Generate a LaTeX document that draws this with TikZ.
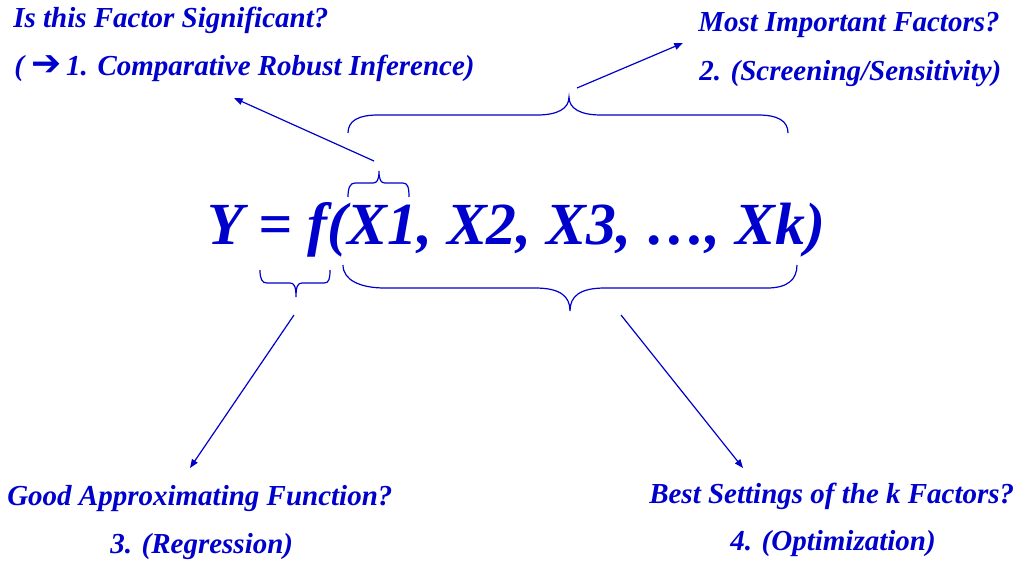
\documentclass[tikz,border=0pt]{standalone}
\usepackage{fontspec}
\setmainfont{Liberation Serif}
\newfontfamily\dingfont{DejaVu Sans}
\usetikzlibrary{arrows.meta}
\definecolor{dblue}{RGB}{0,0,204}
\begin{document}
\begin{tikzpicture}[x=0.75pt,y=-0.75pt,
  lbl/.style={anchor=base west,inner sep=0pt,text=dblue,font=\fontsize{21.75}{26}\selectfont\bfseries\itshape},
  eqn/.style={anchor=base west,inner sep=0pt,text=dblue,font=\fontsize{44.8}{50}\selectfont\bfseries\itshape},
  brace/.style={draw=dblue,line width=0.9pt},
  conn/.style={draw=dblue,line width=0.9pt,-{Triangle[length=6.5pt,width=5pt]}}]
\useasboundingbox (0,0) rectangle (1021,565);
% texts
\node[lbl] (q1) at (13,27) {Is this Factor Significant?};
\node[lbl] (a1) at (14,75) {( {\dingfont\bfseries\upshape\fontsize{27}{27}\selectfont ➔}\,1. Comparative Robust Inference)};
\node[lbl] (q2) at (698,31) {Most Important Factors?};
\node[lbl] (a2) at (699,80) {2. (Screening/Sensitivity)};
\node[lbl] (q3) at (7,505) {Good Approximating Function?};
\node[lbl] (a3) at (110,553) {3. (Regression)};
\node[lbl] (q4) at (649,503) {Best Settings of the k Factors?};
\node[lbl] (a4) at (730,550) {4. (Optimization)};
\node[eqn] (eq) at (207,244) {Y = f(X1, X2, X3, …, Xk)};
% braces
\path[brace] (348,133) .. controls (348,121) and (358,115) .. (378,115) -- (537,115)
  .. controls (557,115) and (569,109) .. (569,97) coordinate (tipA)
  .. controls (569,109) and (581,115) .. (601,115) -- (758,115)
  .. controls (778,115) and (788,121) .. (788,133);
\path[brace] (348,197) .. controls (348,188) and (350,183) .. (355,183) -- (373,183)
  .. controls (377,183) and (379,180) .. (379,171) coordinate (tipB)
  .. controls (379,180) and (381,183) .. (385,183) -- (403,183)
  .. controls (408,183) and (409,188) .. (409,197);
\path[brace] (260,270) .. controls (260,279) and (262,283) .. (267,283) -- (290,283)
  .. controls (294,283) and (296,286) .. (296,297) coordinate (tipC)
  .. controls (296,286) and (298,283) .. (302,283) -- (324,283)
  .. controls (329,283) and (330,279) .. (330,270);
\path[brace] (343,265) .. controls (343,280) and (360,288) .. (385,288) -- (535,288)
  .. controls (560,288) and (570,296) .. (570,311) coordinate (tipD)
  .. controls (570,296) and (580,288) .. (605,288) -- (767,288)
  .. controls (787,288) and (797,280) .. (797,265);
% connector ends
\coordinate (s1) at (374,161);
\coordinate (e1) at (234,98);
\coordinate (s2) at (577,88);
\coordinate (e2) at (683,43);
\coordinate (s3) at (294,315);
\coordinate (e3) at (190,468);
\coordinate (s4) at (621,315);
\coordinate (e4) at (743,468);
\draw[conn] (s1) -- (e1);
\draw[conn] (s2) -- (e2);
\draw[conn] (s3) -- (e3);
\draw[conn] (s4) -- (e4);
\end{tikzpicture}
\end{document}
